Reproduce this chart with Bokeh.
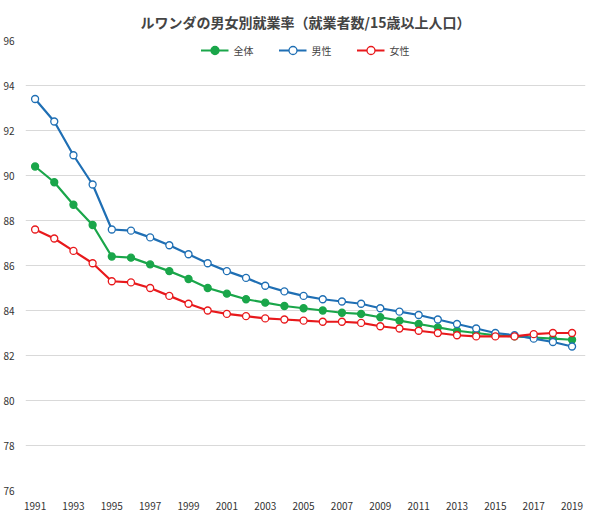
from bokeh.embed import file_html
from bokeh.resources import INLINE
from bokeh.models import ColumnDataSource, Legend, Label, FixedTicker, Range1d
from bokeh.plotting import figure

years = list(range(1991, 2020))
total = [90.4, 89.7, 88.7, 87.8, 86.4, 86.35, 86.05, 85.75, 85.4, 85.0, 84.75, 84.5, 84.35, 84.2,
         84.1, 84.0, 83.9, 83.85, 83.7, 83.55, 83.4, 83.25, 83.1, 83.0, 82.9, 82.85, 82.8, 82.75, 82.7]
male = [93.4, 92.4, 90.9, 89.6, 87.6, 87.55, 87.25, 86.9, 86.5, 86.1, 85.75, 85.45, 85.1, 84.85,
        84.65, 84.5, 84.4, 84.3, 84.1, 83.95, 83.8, 83.6, 83.4, 83.2, 83.0, 82.9, 82.75, 82.6, 82.4]
female = [87.6, 87.2, 86.65, 86.1, 85.3, 85.25, 85.0, 84.65, 84.3, 84.0, 83.85, 83.75, 83.65, 83.6,
          83.55, 83.5, 83.5, 83.45, 83.3, 83.2, 83.1, 83.0, 82.9, 82.85, 82.85, 82.85, 82.95, 83.0, 83.0]

FONT = "Noto Sans CJK JP"
src = ColumnDataSource(dict(year=years, total=total, male=male, female=female))

p = figure(width=593, height=512, output_backend="svg", toolbar_location=None,
           x_range=Range1d(1990.5, 2019.7), y_range=Range1d(76, 96),
           min_border_left=20, min_border_right=8, min_border_top=10, min_border_bottom=10)
p.outline_line_color = None
p.title.text = "ルワンダの男女別就業率（就業者数/15歳以上人口）"
p.title.align = "center"
p.title.text_font = FONT
p.title.text_font_size = "14px"
p.title.standoff = 18

p.xaxis.ticker = FixedTicker(ticks=list(range(1991, 2020, 2)))
p.yaxis.ticker = FixedTicker(ticks=list(range(76, 97, 2)))
for ax in (p.xaxis[0], p.yaxis[0]):
    ax.axis_line_color = None
    ax.major_tick_line_color = None
    ax.minor_tick_line_color = None
    ax.major_label_text_font = FONT
    ax.major_label_text_font_size = "10px"
    ax.major_label_text_color = "#333333"
p.xgrid.grid_line_color = None
p.ygrid.grid_line_color = "#d9d9d9"

items = []
for col, color, fill, label in [("total", "#1aa64a", "#1aa64a", "全体"),
                                ("male", "#1f6fb4", "white", "男性"),
                                ("female", "#e8191c", "white", "女性")]:
    l = p.line("year", col, source=src, line_color=color, line_width=2.2)
    c = p.scatter("year", col, source=src, size=7, line_color=color, fill_color=fill, line_width=1.3)
    items.append((label, [l, c]))

legend = Legend(items=items, orientation="horizontal", location="top_center",
                background_fill_alpha=0, border_line_color=None,
                label_text_font=FONT, label_text_font_size="10px",
                glyph_width=28, spacing=25, margin=0, padding=0)
p.add_layout(legend)

p.add_layout(Label(x=-25, y=450, x_units="screen", y_units="screen", text="単位：%",
                   text_font=FONT, text_font_size="11px", text_color="#333333"))

open("out.html", "w").write(file_html(p, INLINE))
